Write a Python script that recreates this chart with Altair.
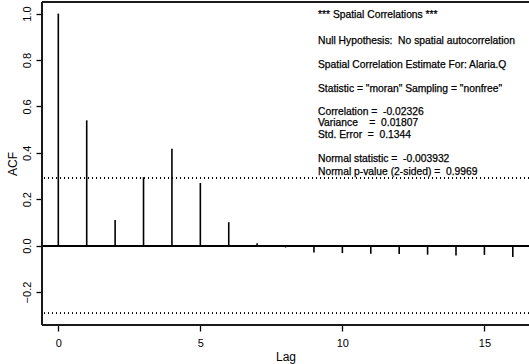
import altair as alt
import pandas as pd

# Data
lags = [0, 1, 2, 3, 4, 5, 6, 7, 8, 9, 10, 11, 12, 13, 14, 15, 16]
acf = [1.0, 0.54, 0.111, 0.295, 0.418, 0.27, 0.101, 0.01, -0.008, -0.03,
       -0.032, -0.035, -0.036, -0.039, -0.043, -0.040, -0.049]
ci = 0.292
x_ticks = [0, 5, 10, 15]
y_ticks = [-0.2, 0.0, 0.2, 0.4, 0.6, 0.8, 1.0]
x_domain = [-0.574, 16.57]
y_domain = [-0.342, 1.050]

NB = "\u00a0"
info_lines = [
    "*** Spatial Correlations ***",
    "Null Hypothesis:" + NB + " No spatial autocorrelation",
    "Spatial Correlation Estimate For: Alaria.Q",
    "Statistic = \"moran\" Sampling = \"nonfree\"",
    "Correlation =" + NB + " -0.02326",
    "Variance" + NB * 4 + "=" + NB + " 0.01807",
    "Std. Error" + NB + " =" + NB + " 0.1344",
    "Normal statistic =" + NB + " -0.003932",
    "Normal p-value (2-sided) =" + NB + " 0.9969",
]
info_y = [13, 39, 62.5, 87, 109.5, 121, 132.5, 157, 169.5]

df = pd.DataFrame({"lag": lags, "acf": acf})

font = "Liberation Sans"

x_enc = alt.X("lag:Q", scale=alt.Scale(domain=x_domain, nice=False, zero=False),
              axis=alt.Axis(values=x_ticks, format="d", title="Lag", grid=False,
                            domain=False, ticks=True, tickWidth=1.3,
                            tickSize=6, labelFontSize=11, labelPadding=6,
                            titleFontSize=12, titlePadding=3, titleFontWeight="normal",
                            tickColor="black", labelColor="black",
                            titleColor="black", labelFont=font, titleFont=font))
y_enc = alt.Y("acf:Q", scale=alt.Scale(domain=y_domain, nice=False, zero=False),
              axis=alt.Axis(values=y_ticks, format=".1f", title="ACF", grid=False,
                            domain=False, ticks=True, tickWidth=1.3,
                            tickSize=6, labelFontSize=11, labelPadding=4,
                            labelAngle=270, labelAlign="center", labelBaseline="bottom",
                            titleFontSize=12, titlePadding=2, titleFontWeight="normal",
                            tickColor="black", labelColor="black",
                            titleColor="black", labelFont=font, titleFont=font))

bars = alt.Chart(df).mark_rule(color="black", strokeWidth=1.6).encode(
    x=x_enc, y=y_enc, y2=alt.datum(0)
)

zero = alt.Chart(df).mark_rule(color="black", strokeWidth=1.3).encode(y=alt.datum(0))
ci_up = alt.Chart(df).mark_rule(color="black", strokeWidth=1, strokeDash=[1, 3]).encode(y=alt.datum(ci))
ci_lo = alt.Chart(df).mark_rule(color="black", strokeWidth=1, strokeDash=[1, 3]).encode(y=alt.datum(-ci))
top = alt.Chart(df).mark_rule(color="#1a1a1a", strokeWidth=1.8).encode(y=alt.datum(y_domain[1]))
bottom = alt.Chart(df).mark_rule(color="#1a1a1a", strokeWidth=1.8).encode(y=alt.datum(y_domain[0]))
left = alt.Chart(df).mark_rule(color="#1a1a1a", strokeWidth=1.8).encode(x=alt.datum(x_domain[0]))

texts = []
for line, yy in zip(info_lines, info_y):
    texts.append(
        alt.Chart(pd.DataFrame({"t": [line]})).mark_text(
            align="left", baseline="middle", font=font, fontSize=10.3, color="black",
            stroke="black", strokeWidth=0.25
        ).encode(text="t:N", x=alt.value(276), y=alt.value(yy))
    )

chart = alt.layer(bars, zero, ci_up, ci_lo, top, bottom, left, *texts).properties(
    width=487, height=323,
    autosize=alt.AutoSizeParams(type="none"),
    padding={"left": 42, "top": 2, "right": 0, "bottom": 39},
    background="white",
).configure_view(stroke=None)

chart.save("out.html", embed_options={"renderer": "svg", "actions": False})
